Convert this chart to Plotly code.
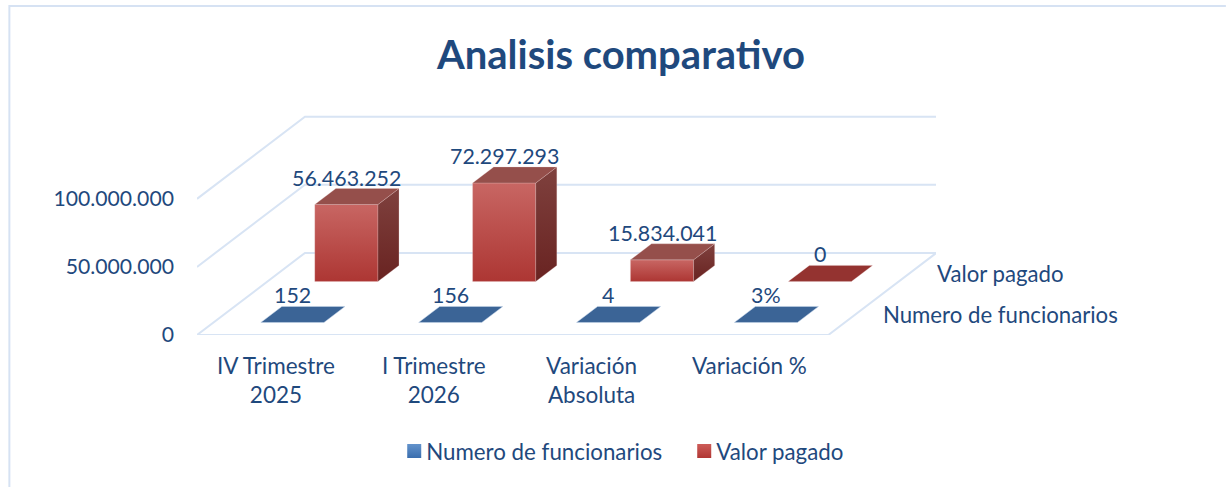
import plotly.graph_objects as go

# ---- data ----
categories = ["IV Trimestre<br>2025", "I Trimestre<br>2026", "Variación<br>Absoluta", "Variación %"]
numero_funcionarios = [152, 156, 4, 0.03]
numero_labels = ["152", "156", "4", "3%"]
valor_pagado = [56463252, 72297293, 15834041, 0]
valor_labels = ["56.463.252", "72.297.293", "15.834.041", "0"]
series_names = ["Numero de funcionarios", "Valor pagado"]
value_ticks = [0, 50000000, 100000000]
value_tick_labels = ["0", "50.000.000", "100.000.000"]

TEXT = "#1F497D"
GRID = "#D8E4F4"
FONT = "Lato, Carlito, Calibri, sans-serif"
W, H = 1226, 487
ML, MR, MT, MB = 196.7, W - 936, 100, H - 334.7
SLOT = 157.9              # px per category
VPX = 68 / 50000000       # px per value unit
DX = 108 / SLOT           # shift of the full depth, in category units
DY = 82 / VPX             # shift of the full depth, in value units
BAR_W = 0.4
BAR_D = 0.195
DEPTH = [0.25, 0.75]      # centre of each series along the depth axis
X_MAX = (936 - ML) / SLOT
Y_MAX = (334.7 - MT) / VPX


def proj(c, v, d):
    return c + d * DX, v + d * DY


def poly(points, **kw):
    xs, ys = zip(*[proj(*p) for p in points])
    return go.Scatter(x=list(xs), y=list(ys), mode="lines", fill="toself",
                      hoverinfo="skip", showlegend=False, **kw)


def grad(low, high):
    return dict(type="vertical", colorscale=[[0, low], [1, high]])


fig = go.Figure()

# walls and floor
for v in value_ticks:
    pts = [proj(0, v, 0), proj(0, v, 1), proj(X_MAX - DX, v, 1)]
    fig.add_trace(go.Scatter(x=[p[0] for p in pts], y=[p[1] for p in pts], mode="lines",
                             line=dict(color=GRID, width=2), hoverinfo="skip", showlegend=False))
pts = [proj(0, 0, 0), proj(4, 0, 0), proj(4, 0, 1)]
fig.add_trace(go.Scatter(x=[p[0] for p in pts], y=[p[1] for p in pts], mode="lines",
                         line=dict(color=GRID, width=2), hoverinfo="skip", showlegend=False))

EDGE_R = "rgba(236,205,205,0.25)"
EDGE_B = "rgba(200,215,235,0.5)"


def box(i, v, s, front, side, top, edge, flat):
    c0, c1 = i + 0.5 - BAR_W / 2, i + 0.5 + BAR_W / 2
    d0, d1 = DEPTH[s] - BAR_D / 2, DEPTH[s] + BAR_D / 2
    line = dict(color=edge, width=1)
    if v > 0 and not flat:
        fig.add_trace(poly([(c0, 0, d0), (c1, 0, d0), (c1, v, d0), (c0, v, d0), (c0, 0, d0)],
                           fillgradient=grad(*front), line=line))
        fig.add_trace(poly([(c1, 0, d0), (c1, 0, d1), (c1, v, d1), (c1, v, d0), (c1, 0, d0)],
                           fillgradient=grad(*side), line=line))
    fig.add_trace(poly([(c0, v, d0), (c1, v, d0), (c1, v, d1), (c0, v, d1), (c0, v, d0)],
                       fillcolor=top, line=line))


for i, v in enumerate(valor_pagado):
    box(i, v, 1, ("#AD3633", "#C86663"), ("#692321", "#7F413E"),
        "#954F4B" if v > 0 else "#943330", EDGE_R, False)
for i, v in enumerate(numero_funcionarios):
    box(i, v, 0, ("#3B6496", "#3B6496"), ("#3B6496", "#3B6496"), "#3B6496", EDGE_B, True)

# legend entries
fig.add_trace(go.Scatter(x=[None], y=[None], mode="markers", name=series_names[0],
                         marker=dict(symbol="square", size=14, color="#6393CC",
                                     gradient=dict(type="vertical", color="#3A6EAE"))))
fig.add_trace(go.Scatter(x=[None], y=[None], mode="markers", name=series_names[1],
                         marker=dict(symbol="square", size=14, color="#CD5C58",
                                     gradient=dict(type="vertical", color="#B13734"))))

ann = []
for s, (vals, labs) in enumerate([(numero_funcionarios, numero_labels), (valor_pagado, valor_labels)]):
    for i, (v, t) in enumerate(zip(vals, labs)):
        x, y = proj(i + 0.5, v, DEPTH[s] - BAR_D / 2)
        ann.append(dict(x=x, y=y, xref="x", yref="y", text=t, showarrow=False, yshift=27,
                        xanchor="center", yanchor="middle",
                        font=dict(family=FONT, size=21.4, color=TEXT)))
for s in range(2):
    x, y = proj(4, 0, DEPTH[s])
    ann.append(dict(x=x, y=y, xref="x", yref="y", text=series_names[s], showarrow=False, xshift=26,
                    xanchor="left", yanchor="middle", font=dict(family=FONT, size=22.2, color=TEXT)))
fig.update_layout(annotations=ann)

PW, PH = W - ML - MR, H - MT - MB
fx = lambda px: (px - ML) / PW
fy = lambda py: (H - MB - py) / PH

fig.update_layout(
    width=W, height=H,
    margin=dict(l=ML, r=MR, t=MT, b=MB, pad=0),
    paper_bgcolor="white", plot_bgcolor="white",
    title=dict(text="<b>Analisis comparativo</b>", x=621 / W, y=1 - 55 / H, xref="container", yref="container",
               xanchor="center", yanchor="middle", font=dict(family=FONT, size=40, color=TEXT)),
    xaxis=dict(range=[0, X_MAX], tickmode="array", tickvals=[i + 0.5 for i in range(4)],
               ticktext=categories, showgrid=False, zeroline=False, showline=False, ticks="",
               ticklabelstandoff=15, tickfont=dict(family=FONT, size=22.5, color=TEXT)),
    yaxis=dict(range=[0, Y_MAX], tickmode="array", tickvals=value_ticks, ticktext=value_tick_labels,
               showgrid=False, zeroline=False, showline=False, ticks="",
               ticklabelstandoff=22, tickfont=dict(family=FONT, size=21.2, color=TEXT)),
    legend=dict(orientation="h", x=fx(386), xanchor="left", y=fy(450.5), yanchor="middle",
                font=dict(family=FONT, size=22.3, color=TEXT), bgcolor="rgba(0,0,0,0)", itemwidth=30,
                entrywidth=245, entrywidthmode="pixels"),
    shapes=[dict(type="path", xref="paper", yref="paper", layer="below",
                 path=f"M {fx(9)},{fy(487)} L {fx(9)},{fy(6)} L {fx(1226)},{fy(6)}",
                 line=dict(color="#D6E2F3", width=2))],
)
fig.write_html("out.html", config=dict(displayModeBar=False),
               post_script=("document.body.style.margin='0';document.body.style.overflow='hidden';"
                            "setTimeout(function(){document.querySelectorAll('.legendsymbols')"
                            ".forEach(function(g){g.setAttribute('transform','translate(8,0)');});},0);"))
